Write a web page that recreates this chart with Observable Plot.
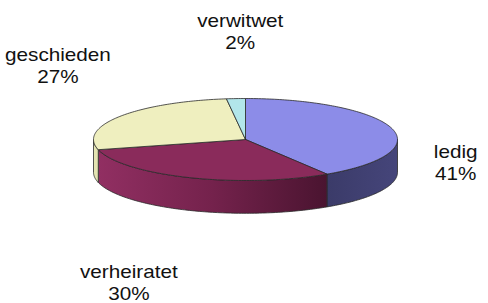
<!DOCTYPE html>
<html><head><meta charset="utf-8">
<script src="https://cdn.jsdelivr.net/npm/d3@7"></script>
<script src="https://cdn.jsdelivr.net/npm/@observablehq/plot@0.6"></script>
<style>html,body{margin:0;padding:0;background:#fff}</style>
</head><body><div id="chart"></div>
<script>
// ---- data ----
const categories = ["ledig", "verheiratet", "geschieden", "verwitwet"];
const values = [41, 30, 27, 2];
const percentLabels = ["41%", "30%", "27%", "2%"];

// ---- styles ----
const topColors = ["#8c8ce8", "#8a2b5b", "#efefbf", "#b2e6ea"];
const sideColors = ["url(#gLedig)", "url(#gVerh)", "#e4e4b2", "#9ccfd3"];
const edge = "#2a2a2a";

// ---- geometry (unit pie, projected by Plot's x/y scales) ----
const depth = 0.8;
const total = d3.sum(values);
let acc = 0;
const slices = categories.map((c, i) => {
  const a0 = acc / total * 2 * Math.PI;
  acc += values[i];
  const a1 = acc / total * 2 * Math.PI;
  return {c, i, a0, a1, mid: (a0 + a1) / 2};
});
const pt = (a, dv = 0) => ({u: Math.sin(a), v: -Math.cos(a) + dv});
function arc(a0, a1) {
  const n = Math.max(2, Math.ceil((a1 - a0) / (Math.PI / 180)));
  return d3.range(n + 1).map(k => a0 + (a1 - a0) * k / n);
}
const tops = slices.map(s => [{u: 0, v: 0}, ...arc(s.a0, s.a1).map(a => pt(a)), {u: 0, v: 0}]);
const sides = slices.map(s => {
  const b0 = Math.max(s.a0, Math.PI / 2), b1 = Math.min(s.a1, 3 * Math.PI / 2);
  if (b1 <= b0) return null;
  const t = arc(b0, b1);
  return [...t.map(a => pt(a)), ...t.slice().reverse().map(a => pt(a, depth)), pt(b0)];
});

// label placement rule: a tilted ellipse around the pie, at each slice's mid angle
const LX = {c: -0.0855, s: 1.487, k: -0.1447};
const LY = {c: 0.697, s: 0.793, k: 3.292};
const labelX = s => LX.c + LX.s * Math.sin(s.mid) + LX.k * -Math.cos(s.mid);
const labelY = s => LY.c + LY.s * Math.sin(s.mid) + LY.k * -Math.cos(s.mid);

const marks = [];
sides.forEach((poly, i) => {
  if (poly) marks.push(Plot.line(poly, {x: "u", y: "v", fill: sideColors[i], stroke: edge, strokeWidth: 0.8}));
});
tops.forEach((poly, i) => {
  marks.push(Plot.line(poly, {x: "u", y: "v", fill: topColors[i], stroke: edge, strokeWidth: 0.8}));
});
marks.push(Plot.text(slices, {
  x: labelX,
  y: labelY,
  text: s => categories[s.i] + "\n" + percentLabels[s.i],
  fontSize: 18, lineHeight: 1.22, fill: "#111",
  fontFamily: "Liberation Sans, Arial, sans-serif",
  className: "lbl"
}));

const chart = Plot.plot({
  width: 488, height: 303,
  margin: 0,
  style: {background: "#fff", fontFamily: "Liberation Sans, Arial, sans-serif"},
  x: {domain: [-1, 1], range: [93, 397], axis: null},
  y: {domain: [-1, 1], range: [98, 180], axis: null},
  marks
});

// gradients
const NS = "http://www.w3.org/2000/svg";
const defs = document.createElementNS(NS, "defs");
function grad(id, stops) {
  const g = document.createElementNS(NS, "linearGradient");
  g.setAttribute("id", id);
  g.setAttribute("x1", "0"); g.setAttribute("x2", "1");
  g.setAttribute("y1", "0"); g.setAttribute("y2", "0");
  stops.forEach(([o, c]) => {
    const s = document.createElementNS(NS, "stop");
    s.setAttribute("offset", o); s.setAttribute("stop-color", c);
    g.appendChild(s);
  });
  defs.appendChild(g);
}
grad("gLedig", [[0, "#3b3b69"], [1, "#45457a"]]);
grad("gVerh", [[0, "#912f62"], [0.5, "#74224c"], [1, "#4a1430"]]);
chart.insertBefore(defs, chart.firstChild);

// horizontal stretch of the label text (as in the reference)
chart.querySelectorAll("g.lbl text, .lbl text").forEach(t => {
  const tr = t.getAttribute("transform");
  if (tr) t.setAttribute("transform", tr + " scale(1.15,1)");
  else {
    const x = +t.getAttribute("x") || 0, y = +t.getAttribute("y") || 0;
    t.setAttribute("transform", `translate(${x},${y}) scale(1.15,1) translate(${-x},${-y})`);
  }
});

document.getElementById("chart").appendChild(chart);
</script>
</body></html>
